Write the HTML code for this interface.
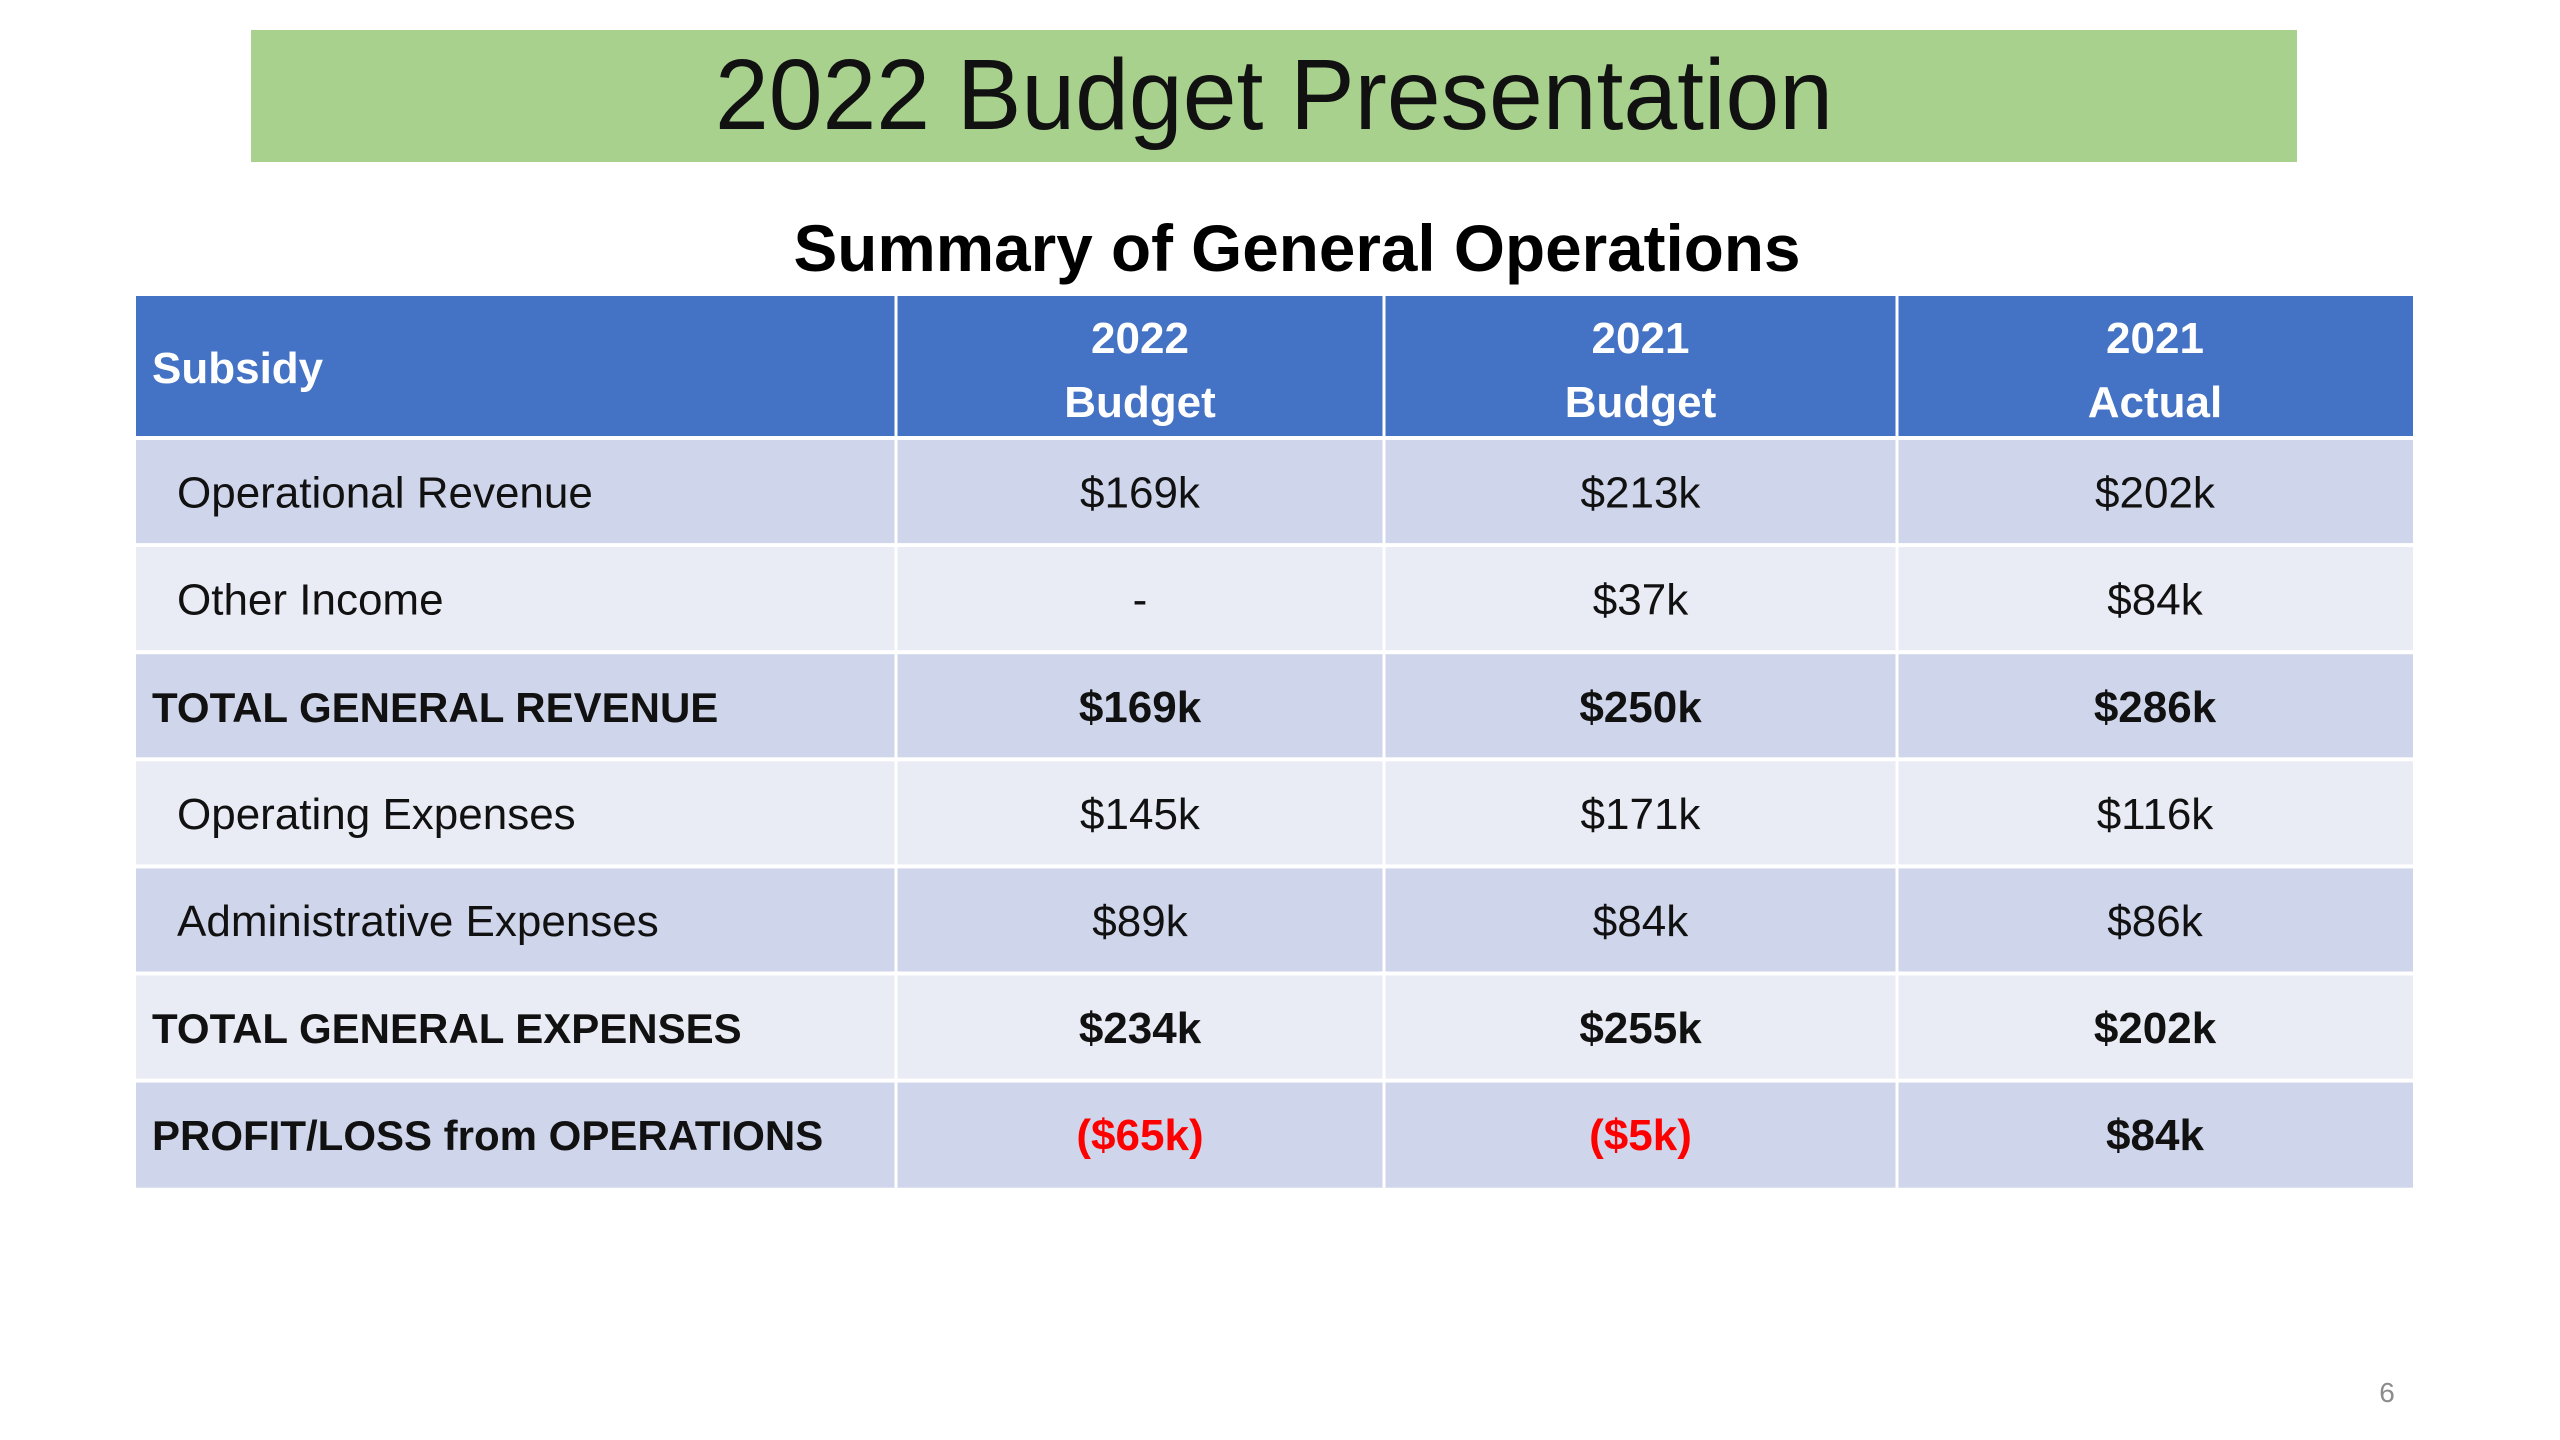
<!DOCTYPE html>
<html><head><meta charset="utf-8"><style>
html,body{margin:0;padding:0;background:#fff;}
svg{display:block;font-family:"Liberation Sans",sans-serif;}
</style></head>
<body>
<svg id="s" width="2560" height="1440" viewBox="0 0 2560 1440" xmlns="http://www.w3.org/2000/svg">
<rect x="0" y="0" width="2560" height="1440" fill="#ffffff"/>
<rect x="251" y="30" width="2046" height="132" fill="#a9d18e"/>
<text x="1274" y="129" text-anchor="middle" font-size="100" fill="#111" textLength="1118" lengthAdjust="spacingAndGlyphs">2022 Budget Presentation</text>
<text x="1297" y="271" text-anchor="middle" font-size="66" font-weight="bold" fill="#000" textLength="1007" lengthAdjust="spacingAndGlyphs">Summary of General Operations</text>
<g id="tbl"></g>
<text x="2387" y="1402" text-anchor="middle" font-size="28" fill="#8c8c8c">6</text>
</svg>
<script>
const headerTop = ["", "2022", "2021", "2021"];
const headerBottom = ["", "Budget", "Budget", "Actual"];
const rowLabels = ["Operational Revenue","Other Income","TOTAL GENERAL REVENUE","Operating Expenses","Administrative Expenses","TOTAL GENERAL EXPENSES","PROFIT/LOSS from OPERATIONS"];
const rowBold = [false,false,true,false,false,true,true];
const budget2022 = ["$169k","-","$169k","$145k","$89k","$234k","($65k)"];
const budget2021 = ["$213k","$37k","$250k","$171k","$84k","$255k","($5k)"];
const actual2021 = ["$202k","$84k","$286k","$116k","$86k","$202k","$84k"];

const NS="http://www.w3.org/2000/svg";
const g=document.getElementById('tbl');
const colX=[136,896,1384,1897,2413];
const headTop=296, headBot=438, rowH=107.1;
function mk(tag,attrs){const e=document.createElementNS(NS,tag);for(const k in attrs)e.setAttribute(k,attrs[k]);g.appendChild(e);return e;}
const hdr=mk('rect',{x:colX[0],y:headTop,width:colX[4]-colX[0],height:headBot-headTop,fill:'#4472c4'});


const sub=mk('text',{x:152,y:383,'font-size':44,'font-weight':'bold',fill:'#fff'});


sub.textContent='Subsidy';
for(let c=1;c<4;c++){
  const cx=(colX[c]+colX[c+1])/2;
  const t1=mk('text',{x:cx,y:353,'text-anchor':'middle','font-size':44,'font-weight':'bold',fill:'#fff'});
  
  
  t1.textContent=headerTop[c];
  const t2=mk('text',{x:cx,y:417,'text-anchor':'middle','font-size':44,'font-weight':'bold',fill:'#fff'});
  
  
  t2.textContent=headerBottom[c];
}
const cols=[budget2022,budget2021,actual2021];
for(let r=0;r<rowLabels.length;r++){
  const y=headBot+r*rowH;
  const bg=mk('rect',{x:colX[0],y:y,width:colX[4]-colX[0],height:rowH,fill:(r%2===0)?'#cfd5ea':'#e9ebf5'});
  
  
  const ln=mk('rect',{x:colX[0],y:y-2,width:colX[4]-colX[0],height:4,fill:'#ffffff'});
  
  
  const bold=rowBold[r];
  const lab=mk('text',{x:bold?152:177,y:y+rowH/2+16,'font-size':bold?42:44,'font-weight':bold?'bold':'normal',fill:'#111'});
  
  
  lab.textContent=rowLabels[r];
  for(let c=0;c<3;c++){
    const v=cols[c][r];
    const cx=(colX[c+1]+colX[c+2])/2;
    const t=mk('text',{x:cx,y:y+rowH/2+16,'text-anchor':'middle','font-size':44,'font-weight':bold?'bold':'normal',fill:(v.charAt(0)==='(')?'#ff0000':'#111'});
    
    
    t.textContent=v;
  }
}
for(let c=1;c<4;c++){
  const vl=mk('rect',{x:colX[c]-1.5,y:headTop,width:3,height:headBot+rowLabels.length*rowH-headTop,fill:'#ffffff'});
  
  
}
</script>
</body></html>
